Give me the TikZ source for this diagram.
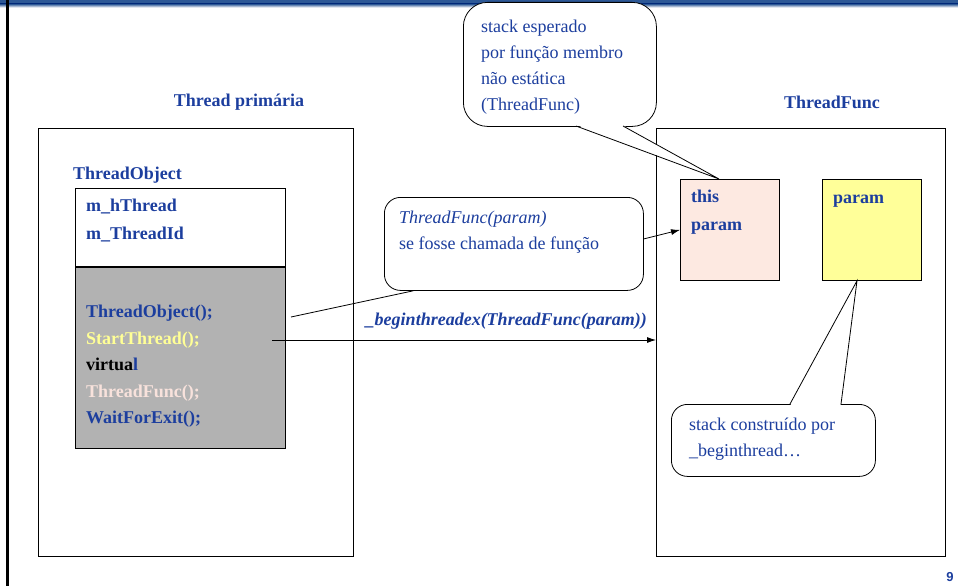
\documentclass[tikz,border=0pt]{standalone}
\usepackage{fontspec}
\setmainfont{Liberation Serif}
\setsansfont{Liberation Sans}
\usepackage{tikz}
\usetikzlibrary{positioning,calc,arrows.meta}

\definecolor{txtblue}{RGB}{28,62,158}
\definecolor{barblue}{RGB}{45,88,150}
\definecolor{boxgray}{RGB}{178,178,178}
\definecolor{pinkfill}{RGB}{253,233,225}
\definecolor{yelfill}{RGB}{255,255,153}
\definecolor{startyel}{RGB}{255,255,150}
\definecolor{funcpink}{RGB}{248,226,220}

\tikzset{
  box/.style={draw, line width=0.8pt, anchor=north west, inner sep=0pt},
  callbox/.style={draw, line width=0.8pt, fill=white, rounded corners=18pt,
    anchor=north west, inner sep=0pt},
  calltxt/.style={align=left, text=txtblue, inner sep=0pt, anchor=north west},
  heading/.style={font=\fontsize{18}{26}\selectfont\bfseries, text=txtblue},
  member/.style={anchor=west, font=\fontsize{18}{26}\selectfont\bfseries,
    text height=14pt, text depth=2pt, inner sep=0pt},
  pointer/.style={line width=0.8pt}
}

\begin{document}
\begin{tikzpicture}[x=1pt,y=-1pt,font=\fontsize{18}{26}\selectfont]
\useasboundingbox (0,0) rectangle (958,586);
% slide frame
\fill[barblue] (0,0) rectangle (958,4);
\shade[top color=barblue, bottom color=white] (0,4) rectangle (958,7.5);
\fill[black] (6,0) rectangle (9,586);

% the two threads
\node[heading] (primtitle) at (239,102) {Thread primária};
\node[heading] (tftitle) at (832,102) {ThreadFunc};
\node[box, minimum width=315pt, minimum height=428pt] (primbox) at (38,128) {};
\node[box, minimum width=289pt, minimum height=428pt] (tfbox) at (656,128) {};

% ThreadObject
\node[member, text=txtblue] (objtitle) at (73,173) {ThreadObject};
\node[box, minimum width=210pt, minimum height=78pt] (attrbox) at (75,188) {};
\node[box, fill=boxgray, line width=1.2pt, minimum width=210pt, minimum height=181pt,
  below=0pt of attrbox] (methbox) {};
\draw[line width=2.5pt] (attrbox.south west) -- (attrbox.south east);
\node[member, text=txtblue] (hthread) at (86,205) {m\_hThread};
\node[member, text=txtblue] (threadid) at (86,233) {m\_ThreadId};
\node[member, text=txtblue] (ctor) at (86,311) {ThreadObject();};
\node[member, text=startyel] (start) at (86,338) {StartThread();};
\node[member] (virt) at (86,364) {virtua{\color{txtblue}l}};
\node[member, text=funcpink] (func) at (86,391) {ThreadFunc();};
\node[member, text=txtblue] (wait) at (86,417) {WaitForExit();};

% stack of ThreadFunc
\node[box, fill=pinkfill, minimum width=99pt, minimum height=101pt] (thisbox) at (680,179) {};
\node[box, fill=yelfill, minimum width=99pt, minimum height=101pt] (parbox) at (822,179) {};
\node[member, text=txtblue] (thistxt) at (691,196) {this};
\node[member, text=txtblue] (paramtxt) at (691,224) {param};
\node[member, text=txtblue] (partxt) at (833,197) {param};

% callouts
\node[callbox, rounded corners=24pt, minimum width=193pt, minimum height=124pt] (stackexp) at (463,2) {};
\node[calltxt, below right=18pt and 18pt of stackexp.north west] (stackexptxt)
  {stack esperado\\por função membro\\não estática\\(ThreadFunc)};
\coordinate (tipA) at ($(thisbox.north west)+(39,0)$);
\fill[white] (576.5,125) -- (tipA) -- (622.5,125) -- cycle;
\draw[pointer] (576,126) -- (tipA) -- (623,126);

\node[callbox, rounded corners=16pt, minimum width=259pt, minimum height=93pt] (funccall) at (384,197) {};
\node[calltxt, below right=14pt and 15pt of funccall.north west] (funccalltxt)
  {\textit{ThreadFunc(param)}\\se fosse chamada de função};

\node[callbox, rounded corners=16pt, minimum width=204pt, minimum height=72pt] (stackbuilt) at (671,404) {};
\node[calltxt, below right=14pt and 18pt of stackbuilt.north west] (stackbuilttxt)
  {stack construído por\\\_beginthread…};
\coordinate (tipB) at ($(parbox.south west)+(35,0)$);
\fill[white] (790.5,405) -- (tipB) -- (840.5,405) -- cycle;
\draw[pointer] (790,404) -- (tipB) -- (841,404);

% connectors
\coordinate (objcall) at (291,317);
\draw[pointer] (objcall) -- (funccall.205);
\draw[pointer, -{Latex[length=9pt,width=6pt]}] ($(funccall.east)+(0,-5)$) -- (thisbox.west);
\coordinate (startcall) at (272,340);
\draw[pointer, -{Latex[length=9pt,width=6pt]}] (startcall) -- (startcall -| tfbox.west)
  node[pos=0.61, above=7pt, text=txtblue, font=\fontsize{18}{26}\selectfont\bfseries\itshape]
  (beginlbl) {\_beginthreadex(ThreadFunc(param))};

\node[text=txtblue, font=\sffamily\bfseries\fontsize{13}{15}\selectfont] (pagenum) at (950,577) {9};
\end{tikzpicture}
\end{document}
